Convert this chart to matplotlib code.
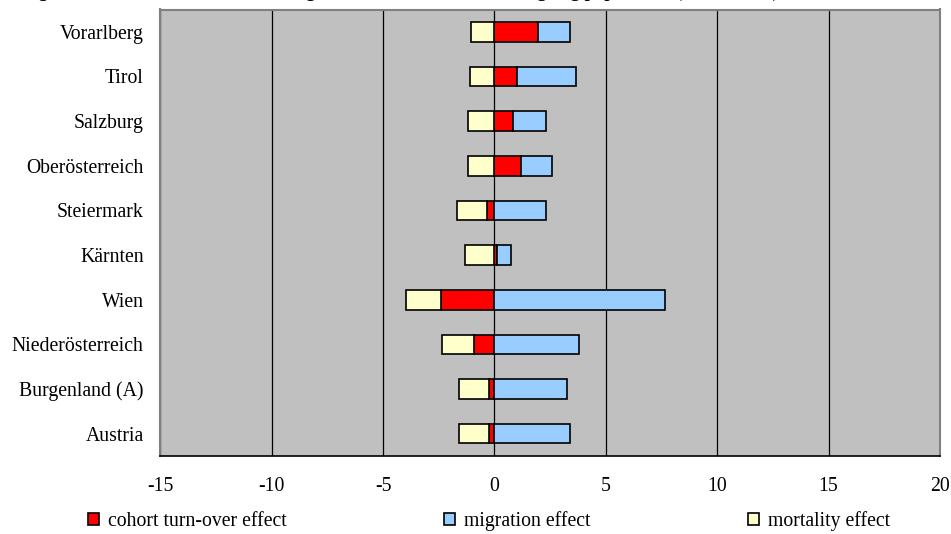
import numpy as np
import matplotlib.pyplot as plt

plt.rcParams['font.family'] = ['Liberation Serif', 'DejaVu Serif']

# regions, top to bottom
regions = ["Vorarlberg", "Tirol", "Salzburg", "Oberösterreich", "Steiermark",
           "Kärnten", "Wien", "Niederösterreich", "Burgenland (A)", "Austria"]

# contributions (percentage points)
cohort    = [1.96, 1.01, 0.83, 1.17, -0.33, 0.13, -2.41, -0.91, -0.25, -0.25]
migration = [1.43, 2.65, 1.48, 1.41, 2.31, 0.63, 7.65, 3.79, 3.25, 3.39]
mortality = [-1.06, -1.08, -1.19, -1.19, -1.34, -1.33, -1.55, -1.44, -1.35, -1.35]

series = [("cohort turn-over effect", cohort, "#FF0000"),
          ("migration effect", migration, "#99CCFF"),
          ("mortality effect", mortality, "#FFFFCC")]

xticks = [-15, -10, -5, 0, 5, 10, 15, 20]

fs = 14.2

fig = plt.figure(figsize=(9.51, 5.34), dpi=100)
ax = fig.add_axes([160.3 / 951, 1 - 456 / 534, 779.7 / 951, 446.5 / 534])
ax.set_facecolor("#C0C0C0")

y = np.arange(len(regions))
pos_base = np.zeros(len(regions))
neg_base = np.zeros(len(regions))
for label, vals, color in series:
    vals = np.array(vals)
    left = np.where(vals >= 0, pos_base, neg_base)
    ax.barh(y, vals, left=left, height=0.44, color=color,
            edgecolor="black", linewidth=1.2, label=label, zorder=3)
    pos_base += np.clip(vals, 0, None)
    neg_base += np.clip(vals, None, 0)

ax.set_ylim(len(regions) - 0.5, -0.5)
ax.set_yticks(y)
ax.set_yticklabels(regions)
ax.set_xlim(-15, 20)
ax.set_xticks(xticks)
ax.set_xticklabels([str(t) for t in xticks])
ax.xaxis.grid(True, color="black", linewidth=0.9, zorder=1)
ax.set_axisbelow(True)
ax.tick_params(axis="both", length=0, labelsize=fs)
ax.tick_params(axis="y", pad=12)
ax.tick_params(axis="x", pad=15)

for side in ["left", "top", "right"]:
    ax.spines[side].set_color("#808080")
    ax.spines[side].set_linewidth(1.5)
ax.spines["bottom"].set_color("black")
ax.spines["bottom"].set_linewidth(1.2)

fig.legend(loc="center left", bbox_to_anchor=(88 / 951, 1 - 521 / 534),
           ncol=3, frameon=False, fontsize=fs, handlelength=0.55,
           handleheight=0.55, handletextpad=0.45, columnspacing=8.0,
           borderpad=0, borderaxespad=0)

# title sits mostly above the top edge
fig.text(22 / 951, 1 + 3 / 534,
         "Figure 3: Contributions to the change in the relative size of the ageing population (2001-31, %)",
         ha="left", va="baseline", fontsize=13.5, fontweight="bold")

fig.savefig("out.png", dpi=100)
